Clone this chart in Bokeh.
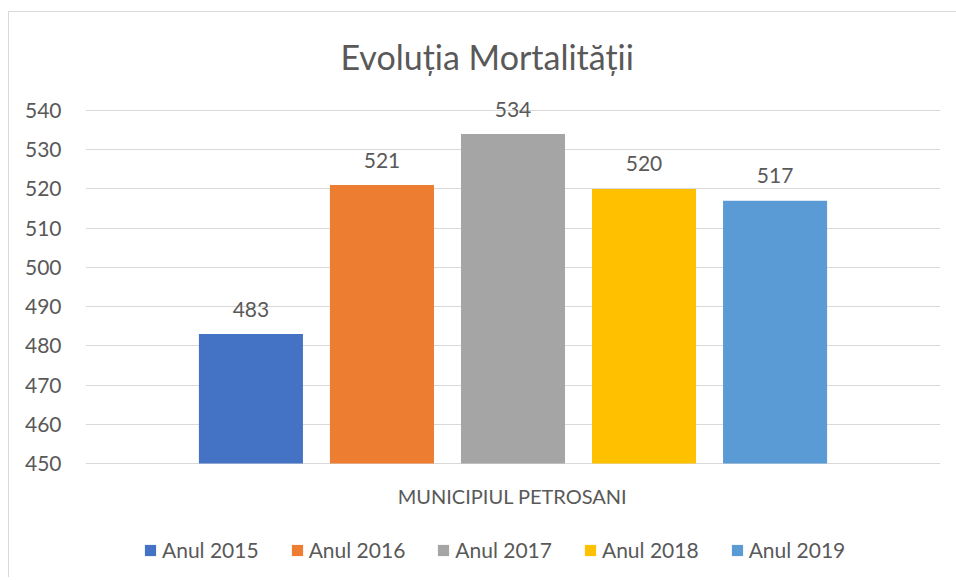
from bokeh.plotting import figure
from bokeh.models import (ColumnDataSource, FactorRange, Range1d, Legend, LegendItem,
                          FixedTicker, Label)
from bokeh.core.properties import value, field
from bokeh.embed import file_html
from bokeh.resources import INLINE

years = ["Anul 2015", "Anul 2016", "Anul 2017", "Anul 2018", "Anul 2019"]
deaths = [483, 521, 534, 520, 517]
colors = ["#4472C4", "#ED7D31", "#A5A5A5", "#FFC000", "#5B9BD5"]
y_ticks = [450, 460, 470, 480, 490, 500, 510, 520, 530, 540]
category = "MUNICIPIUL PETROSANI"
title_text = "Evoluția Mortalității"

FONT = "Lato"
TXT = "#595959"
GRID = "#D9D9D9"
BASE = y_ticks[0]

src = ColumnDataSource(dict(year=years, deaths=deaths, color=colors,
                            label=[str(v) for v in deaths]))

p = figure(width=948, height=566, output_backend="svg", toolbar_location=None,
           x_range=FactorRange(*years, range_padding=0.305),
           y_range=Range1d(421.44, 544.08),
           min_border_left=76, min_border_right=17, min_border_top=82, min_border_bottom=3)
p.styles = {"border-left": "1px solid #D9D9D9", "border-top": "1px solid #D9D9D9",
            "margin-left": "8px", "margin-top": "11px"}
p.title.text = title_text
p.title.align = "left"
p.title.offset = 255
p.title.text_font = FONT
p.title.text_font_size = "34px"
p.title.text_font_style = "normal"
p.title.text_color = TXT
p.title.standoff = 35

bars = p.vbar(x="year", top="deaths", bottom=BASE, width=0.794, fill_color="color",
              line_color=None, source=src)
p.text(x="year", y="deaths", text="label", source=src, text_align="center",
       text_baseline="alphabetic", y_offset=-25, text_font=value(FONT),
       text_font_size="21px", text_color=TXT)

p.outline_line_color = None
p.xgrid.grid_line_color = None
p.ygrid.grid_line_color = GRID
p.ygrid.grid_line_width = 1
p.yaxis.ticker = FixedTicker(ticks=y_ticks)
p.yaxis.axis_line_color = None
p.yaxis.major_tick_line_color = None
p.yaxis.minor_tick_line_color = None
p.yaxis.major_label_text_font = FONT
p.yaxis.major_label_text_font_size = "21px"
p.yaxis.major_label_text_color = TXT
p.yaxis.major_label_standoff = 18
p.xaxis.visible = False

p.add_layout(Label(x=427, y=80, x_units="screen", y_units="screen", text=category,
                   text_align="center", text_baseline="middle", text_font=FONT,
                   text_font_size="20px", text_color=TXT))

legend = Legend(items=[LegendItem(label=field("year"), renderers=[bars])],
                orientation="horizontal", location=(58, 13),
                label_text_font=FONT, label_text_font_size="21px",
                label_text_color=TXT, glyph_width=14, glyph_height=14,
                spacing=31, label_standoff=5, border_line_color=None,
                background_fill_alpha=0, margin=0, padding=0)
p.add_layout(legend, "center")

open("out.html", "w").write(file_html(p, INLINE))
